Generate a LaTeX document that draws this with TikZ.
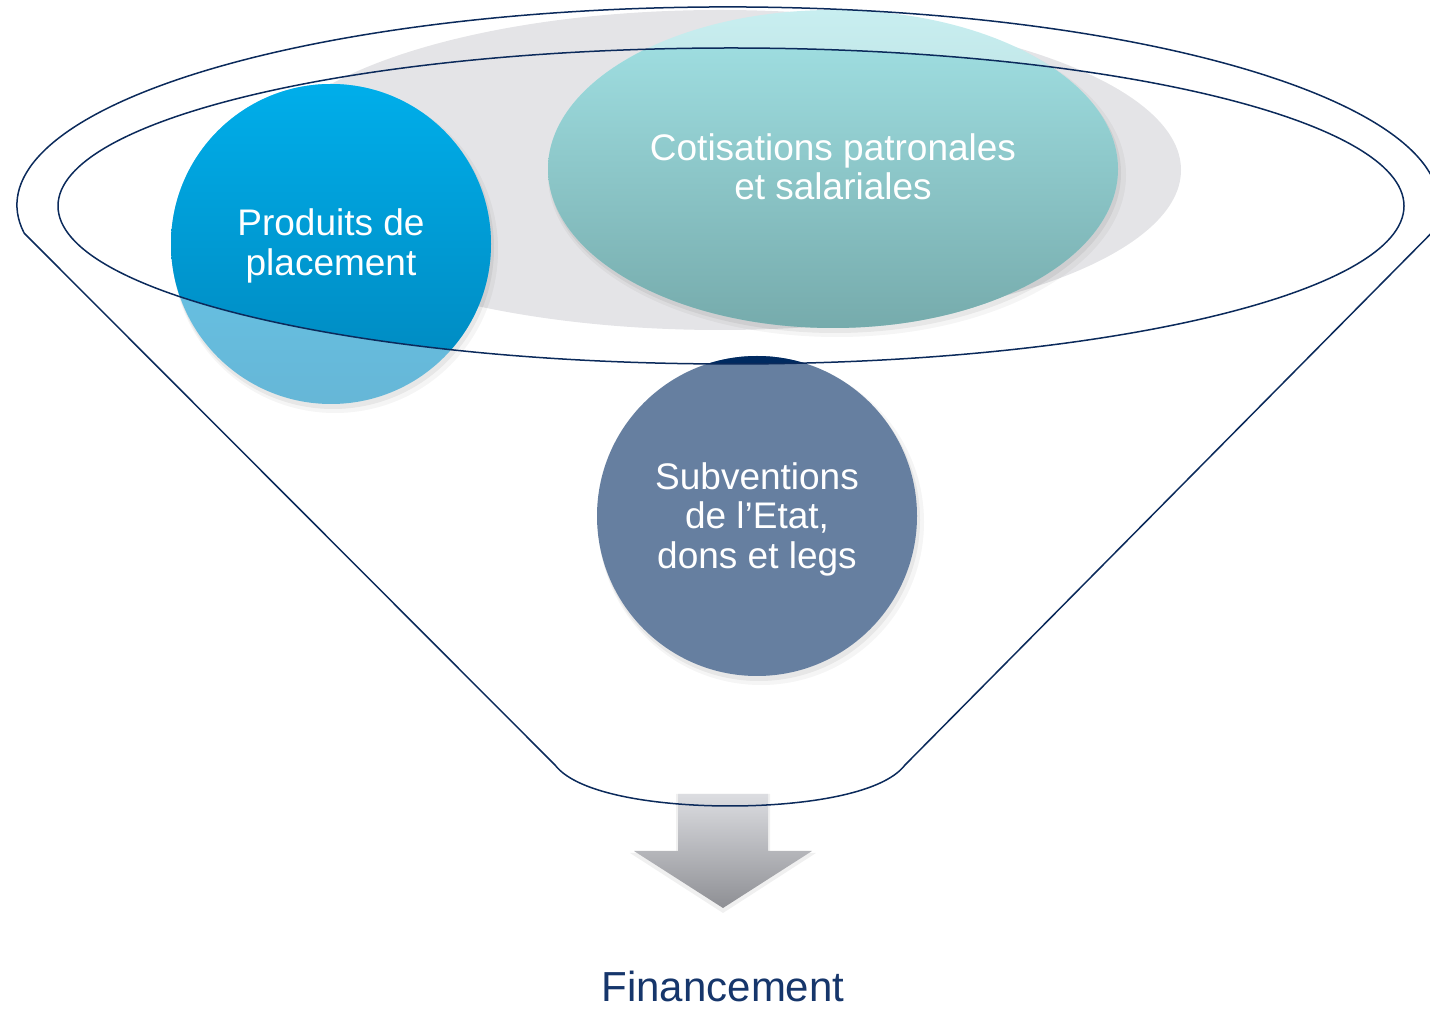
\documentclass[tikz,border=0pt]{standalone}
\usepackage{fontspec}
\setmainfont{Liberation Sans}
\definecolor{navyline}{HTML}{0B2A5B}
\definecolor{grayback}{HTML}{E4E4E7}
\definecolor{tealtop}{HTML}{A3E3E6}
\definecolor{tealbot}{HTML}{76ABAC}
\definecolor{bluetop}{HTML}{00AEEA}
\definecolor{bluebot}{HTML}{0086BC}
\definecolor{navyfill}{HTML}{002A60}
\definecolor{arrtop}{HTML}{DCDDE1}
\definecolor{arrbot}{HTML}{8E8F94}
\definecolor{fintext}{HTML}{16366B}
\tikzset{
  x=1pt, y=1pt,
  funnel/.style={draw=navyline, line width=1.5pt, line join=round},
  circtext/.style={text=white, align=center, font=\fontsize{37}{39.5}\selectfont},
  shadowA/.style={fill=black, opacity=0.04},
  shadowB/.style={fill=black, opacity=0.06},
}
\begin{document}
\begin{tikzpicture}
\useasboundingbox (0,0) rectangle (1430,1010);
% background gray ellipse
\fill[grayback] (720,840) ellipse [x radius=461pt, y radius=160pt];
% shadows
\fill[shadowA] (837,835) ellipse [x radius=289pt, y radius=162pt];
\fill[shadowB] (835,837) ellipse [x radius=286pt, y radius=160pt];
\fill[shadowA] (335,760) circle (163pt);
\fill[shadowB] (333,762) circle (161pt);
\fill[shadowA] (761,488) circle (163pt);
\fill[shadowB] (759,490) circle (161pt);
% light (outside) versions
\shade[top color=tealtop!60!white, bottom color=tealbot!60!white] (833,841) ellipse [x radius=285pt, y radius=159pt];
\shade[top color=bluetop!60!white, bottom color=bluebot!60!white] (331,766) circle (160pt);
\fill[navyfill!60!white] (757,494) circle (160pt);
% full versions inside inner ellipse
\begin{scope}
  \clip (731,804) ellipse [x radius=673pt, y radius=158pt];
  \shade[top color=tealtop, bottom color=tealbot] (833,841) ellipse [x radius=285pt, y radius=159pt];
  \shade[top color=bluetop, bottom color=bluebot] (331,766) circle (160pt);
  \fill[navyfill] (757,494) circle (160pt);
\end{scope}
% texts in circles
\node[circtext] (prod) at (331,764) {Produits de\\placement};
\node[circtext] (coti) at (833,843) {Cotisations patronales\\et salariales};
\node[circtext] (subv) at (757,491) {Subventions\\de l’Etat,\\dons et legs};
% arrow shadow
\fill[black, opacity=0.06] (676,216) -- (770,216) -- (770,157) -- (816,157) -- (723,97) -- (630,157) -- (676,157) -- cycle;
% arrow
\shade[top color=arrtop, bottom color=arrbot] (678,216) -- (768,216) -- (768,159) -- (812,159) -- (723,102) -- (634,159) -- (678,159) -- cycle;
% funnel
\draw[funnel] (731,804) ellipse [x radius=673pt, y radius=158pt];
\coordinate (lc) at (24,777);
\draw[funnel] (lc) -- (555,245) .. controls (578,215) and (660,204) .. (730,204)
  .. controls (800,204) and (882,215) .. (905,245) -- (1432,777.5)
  arc[start angle=-8, end angle=188, x radius=711pt, y radius=198pt];
% label
\node[text=fintext, inner sep=0pt, anchor=base, font=\fontsize{42}{46}\selectfont] (fin) at (723,9) {Financement};
\end{tikzpicture}
\end{document}
